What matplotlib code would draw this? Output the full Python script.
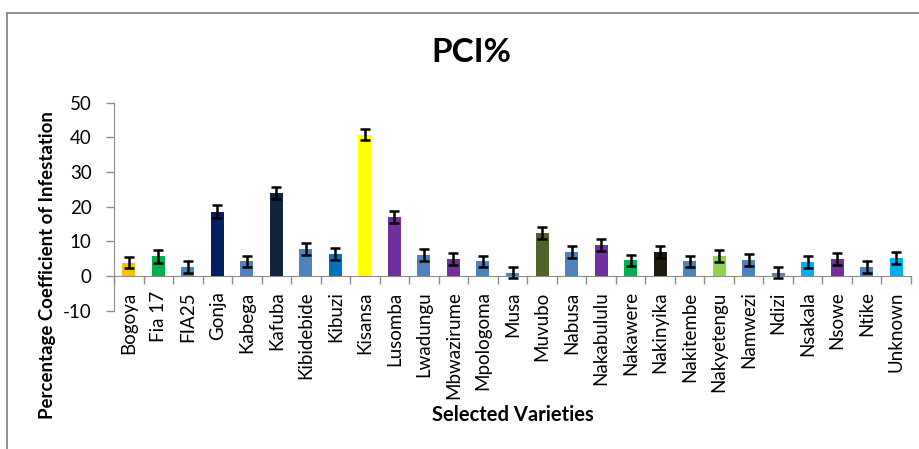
import matplotlib
matplotlib.use("Agg")
import matplotlib.pyplot as plt
from matplotlib.lines import Line2D
from matplotlib.ticker import FixedLocator

plt.rcParams['font.family'] = ['Lato', 'DejaVu Sans']

varieties = ["Bogoya", "Fia 17", "FIA25", "Gonja", "Kabega", "Kafuba", "Kibidebide",
             "Kibuzi", "Kisansa", "Lusomba", "Lwadungu", "Mbwazirume", "Mpologoma",
             "Musa", "Muvubo", "Nabusa", "Nakabululu", "Nakawere", "Nakinyika",
             "Nakitembe", "Nakyetengu", "Namwezi", "Ndizi", "Nsakala", "Nsowe",
             "Ntike", "Unknown"]
pci = [3.9, 5.7, 2.6, 18.6, 4.2, 24.0, 7.7, 6.4, 40.7, 17.1, 6.0, 5.0, 4.2,
       1.0, 12.3, 6.9, 9.0, 4.5, 6.9, 4.2, 5.7, 4.7, 1.0, 4.0, 5.0, 2.6, 5.2]
err = [1.7, 1.8, 1.7, 1.8, 1.7, 1.7, 1.7, 1.7, 1.6, 1.7, 1.7, 1.7, 1.7,
       1.6, 1.7, 1.7, 1.7, 1.7, 1.7, 1.7, 1.7, 1.7, 1.6, 1.7, 1.7, 1.7, 1.7]
colors = ["#FFC000", "#00B050", "#4F81BD", "#002060", "#4F81BD", "#10243E", "#4F81BD",
          "#0070C0", "#FFFF00", "#7030A0", "#4F81BD", "#7030A0", "#4F81BD",
          "#4F81BD", "#4F6228", "#4F81BD", "#7030A0", "#00B050", "#1D1B10",
          "#4F81BD", "#92D050", "#4F81BD", "#4F81BD", "#00B0F0", "#7030A0",
          "#4F81BD", "#00B0F0"]
yticks = [-10, 0, 10, 20, 30, 40, 50]

W, H = 920, 449
fig = plt.figure(figsize=(W / 100, H / 100), dpi=100)
ax = fig.add_axes([114 / W, 1 - 310.7 / H, (911 - 114) / W, (310.7 - 102.7) / H])

x = list(range(len(varieties)))
ax.bar(x, pci, width=0.44, color=colors, zorder=2)
ax.errorbar(x, pci, yerr=err, fmt='none', ecolor='black', elinewidth=1.8,
            capsize=3.3, capthick=1.8, zorder=3)

ax.set_xlim(-0.5, len(varieties) - 0.5)
ax.set_ylim(-10, 50)
ax.set_yticks(yticks)
ax.set_yticklabels([str(v) for v in yticks], fontsize=13.5)

ax.spines['top'].set_visible(False)
ax.spines['right'].set_visible(False)
ax.spines['left'].set_color('#8c8c8c')
ax.spines['bottom'].set_color('#8c8c8c')
ax.spines['bottom'].set_position(('data', 0))
ax.spines['bottom'].set_zorder(1)
ax.tick_params(axis='y', length=6, width=1, color='#8c8c8c', pad=10)

ax.set_xticks(x)
ax.set_xticklabels(varieties, rotation=90, fontsize=13.5)
ax.tick_params(axis='x', which='major', length=0, pad=11)
ax.xaxis.set_minor_locator(FixedLocator([i - 0.5 for i in range(len(varieties) + 1)]))
ax.tick_params(axis='x', which='minor', length=6, width=1, color='#8c8c8c', direction='out')

fig.text(0.5 * (114 + 911) / W, 1 - 415 / H, "Selected Varieties", fontsize=14.5,
         fontweight='bold', ha='center', va='center')
fig.text(48 / W, 1 - 265 / H, "Percentage Coefficient of Infestation", fontsize=13.4,
         fontweight='bold', ha='center', va='center', rotation=90)
fig.text(471 / W, 1 - 53 / H, "PCI%", fontsize=24, fontweight='bold',
         ha='center', va='center')

# chart border
fig.add_artist(Line2D([7 / W, 7 / W], [0, 1 - 12.7 / H], transform=fig.transFigure,
                      color='#888888', lw=1.3))
fig.add_artist(Line2D([7 / W, 1], [1 - 12.7 / H, 1 - 12.7 / H], transform=fig.transFigure,
                      color='#888888', lw=1.3))

fig.savefig("out.png", dpi=100)
